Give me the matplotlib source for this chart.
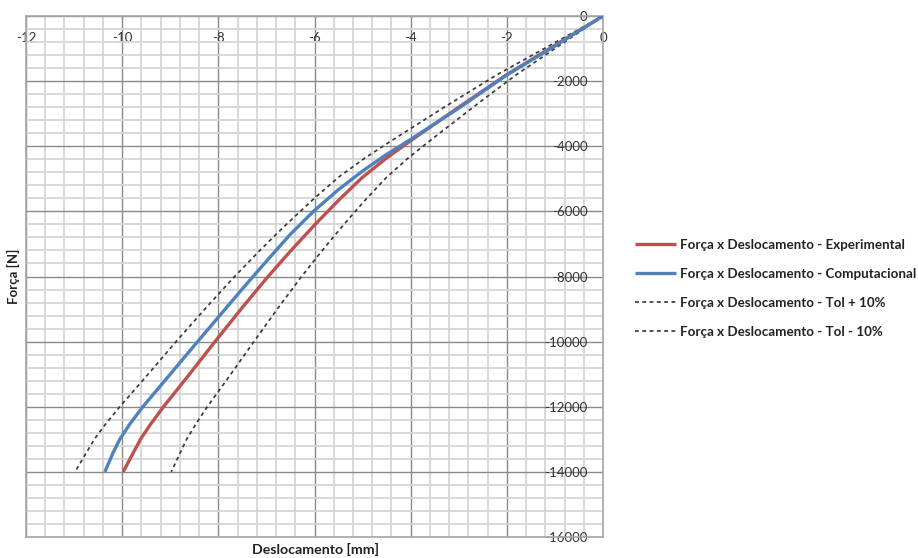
import matplotlib
matplotlib.use("Agg")
import matplotlib.pyplot as plt
from matplotlib.ticker import MultipleLocator

plt.rcParams['font.family'] = ['Lato', 'DejaVu Sans']
plt.rcParams['axes.unicode_minus'] = False

# Data (displacement in mm, force in N)
exp_x = [0, -1, -2, -3, -4, -4.5, -5, -5.5, -6, -6.5, -7, -7.5, -8.07, -8.6, -9.14, -9.42, -9.62, -9.8, -9.98]
exp_y = [0, -900, -1800, -2800, -3830, -4360, -4950, -5660, -6420, -7220, -8060, -8950, -10000, -11000, -12000, -12560, -13000, -13500, -14000]

comp_x = [0, -1, -2, -3, -4, -4.5, -5, -5.5, -6, -6.5, -7, -7.5, -8, -8.5, -9, -9.57, -9.84, -10.05, -10.2, -10.36]
comp_y = [0, -920, -1810, -2830, -3790, -4250, -4760, -5330, -5970, -6700, -7530, -8380, -9250, -10120, -11000, -12000, -12530, -13000, -13450, -14000]

tolp_x = [0, -1.1, -2.2, -3.3, -4.4, -4.95, -5.5, -6.05, -6.6, -7.15, -7.7, -8.25, -8.88, -9.46, -10.05, -10.36, -10.58, -10.78, -10.98]
tolp_y = [0, -900, -1800, -2800, -3830, -4360, -4950, -5660, -6420, -7220, -8060, -8950, -10000, -11000, -12000, -12560, -13000, -13500, -14000]

tolm_x = [0, -0.9, -1.8, -2.7, -3.6, -4.05, -4.5, -4.95, -5.4, -5.85, -6.3, -6.75, -7.26, -7.74, -8.23, -8.48, -8.66, -8.82, -8.98]
tolm_y = [0, -900, -1800, -2800, -3830, -4360, -4950, -5660, -6420, -7220, -8060, -8950, -10000, -11000, -12000, -12560, -13000, -13500, -14000]

labels = ["Força x Deslocamento - Experimental",
          "Força x Deslocamento - Computacional",
          "Força x Deslocamento - Tol + 10%",
          "Força x Deslocamento - Tol - 10%"]

W, H = 918, 558
fig = plt.figure(figsize=(W / 100, H / 100), dpi=100)
ax = fig.add_axes([26 / W, (H - 537) / H, (603 - 26) / W, (537 - 16) / H])

ax.set_xlim(-12, 0)
ax.set_ylim(-16000, 0)
ax.xaxis.set_major_locator(MultipleLocator(2))
ax.xaxis.set_minor_locator(MultipleLocator(0.4))
ax.yaxis.set_major_locator(MultipleLocator(2000))
ax.yaxis.set_minor_locator(MultipleLocator(400))

ax.grid(which='minor', color='#d6d6d6', linewidth=1.3, zorder=0)
ax.grid(which='major', color='#8a8a8a', linewidth=1.0, zorder=0)
ax.set_axisbelow(True)
for s in ax.spines.values():
    s.set_color('#a6a6a6')
    s.set_linewidth(1.2)

dash = (0, (2.2, 2.0))
l3, = ax.plot(tolp_x, tolp_y, color='#3a3a3a', linewidth=1.25, linestyle=dash, zorder=3)
l4, = ax.plot(tolm_x, tolm_y, color='#3a3a3a', linewidth=1.25, linestyle=dash, zorder=3)
l1, = ax.plot(exp_x, exp_y, color='#C0504D', linewidth=2.4, zorder=4,
              solid_capstyle='butt', solid_joinstyle='round')
l2, = ax.plot(comp_x, comp_y, color='#4F81BD', linewidth=2.4, zorder=5,
              solid_capstyle='butt', solid_joinstyle='round')

ax.tick_params(axis='x', which='both', top=True, labeltop=True, bottom=False,
               labelbottom=False, length=0, pad=-20, labelsize=9.5, labelcolor='#333333')
ax.tick_params(axis='y', which='both', right=True, labelright=True, left=False,
               labelleft=False, length=0, pad=-11, labelsize=9.5, labelcolor='#333333')
for t in ax.get_yticklabels():
    t.set_horizontalalignment('right')

fig.text(13 / W, 1 - 276 / H, "Força [N]", rotation=90, ha='center', va='center',
         fontsize=9.5, fontweight='bold', color='#222222')
fig.text(315 / W, 1 - 549 / H, "Deslocamento [mm]", ha='center', va='center',
         fontsize=10.2, fontweight='bold', color='#222222')

leg = fig.legend([l1, l2, l3, l4], labels, loc='upper left',
                 bbox_to_anchor=(623 / W, 1 - 227 / H), frameon=False,
                 handlelength=3.1, handletextpad=0.25, labelspacing=1.27,
                 prop={'size': 9.6, 'weight': 'bold'})
for t in leg.get_texts():
    t.set_color('#222222')

fig.savefig("out.png", dpi=100)
